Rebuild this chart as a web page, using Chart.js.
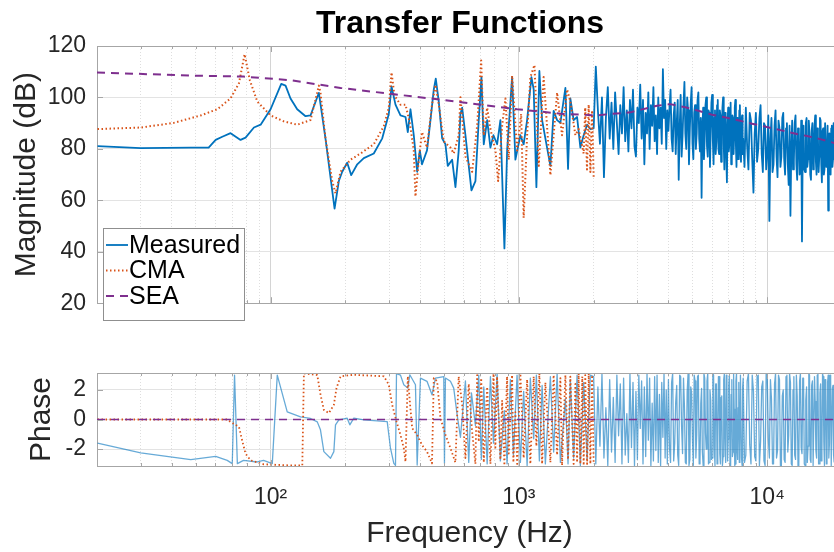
<!DOCTYPE html>
<html>
<head>
<meta charset="utf-8">
<script src="https://cdn.jsdelivr.net/npm/chart.js@4/dist/chart.umd.min.js"></script>
<style>
  html, body { margin: 0; padding: 0; background: #fff; overflow: hidden; width: 834px; height: 552px; }
  #title { position: absolute; left: 0; top: 3px; width: 920px; text-align: center;
           font: bold 32px 'Liberation Sans', Arial, Helvetica, sans-serif; line-height: 38px; color: #000; }
  #topBox { position: absolute; left: 0; top: 0; width: 843px; height: 328px; }
  #botBox { position: absolute; left: 0; top: 340px; width: 843px; height: 212px; }
</style>
</head>
<body>
<div id="topBox"><canvas id="magChart" width="843" height="328"></canvas></div>
<div id="botBox"><canvas id="phChart" width="843" height="212"></canvas></div>
<div id="title">Transfer Functions</div>
<script>
// ---- data ----
const freqTicks = [20,30,40,50,60,70,80,90,100,200,300,400,500,600,700,800,900,
  1000,2000,3000,4000,5000,6000,7000,8000,9000,10000,20000];
const decadeTicks = [100, 1000, 10000];
const decadeLabels = ['10\u00b2', '10\u00b3', '10\u2074'];
const magTicks = [20, 40, 60, 80, 100, 120];
const phaseTicks = [-2, 0, 2];

// measured, below 2 kHz
const measLoFreq = [20.1,30,47.7,56.3,60.1,63.9,69,75.7,79.3,85.7,91.2,100,110.4,114.9,120.3,128,138.3,144.8,156.5,166.4,
  181,188.3,194.3,203.5,211.2,223.4,237.4,260.4,281.6,299.3,306.9,318.4,333.5,349.4,356.9,365.9,377.3,389.3,398.9,407.2,
  426.5,440.4,454.2,462.6,475.7,490.8,506,517,538.4,555.2,572.3,581.5,590.8,609.2,628.1,644,668.3,689,706.5,721.8,
  745,767.8,789.7,817.2,842.4,874.2,896.5,938.9,968,1014,1045,1079,1123,1147,1176,1209,1240,1278,1339,1380,
  1425,1469,1539,1577,1611,1661,1715,1768,1823,1882,1939];
const measLoMag = [81.1,80.3,80.5,80.5,83.5,84.7,86.1,83.5,84.4,88.3,89.4,95.4,105.3,104.6,99.6,95.4,92.7,93,101.8,84,
  56.8,67.5,71.1,74.6,69.8,74,76.4,78.2,84.1,93.6,104.3,97.2,93,92.4,86.5,95.4,85.3,71.1,79.4,74,
  79.4,91.2,103.1,107.3,98.4,84.1,81.8,73.4,75.8,65.1,79.4,93.6,96,85.3,73.4,63.9,67.5,91.2,107.9,81.8,
  91.2,80.5,85.3,81.8,91.2,41.3,79.4,107.9,75.8,85.3,81.8,91.2,107.9,103.1,65.1,110.3,91.2,84.1,73.4,94.8,
  91.2,90.1,103.7,72.2,99.6,91.2,92.4,80.5,85.3,89.4,87.7];

// measured, 2 kHz and up (magnitude and phase share these frequencies)
const measHiFreq = [2000,2040,2080,2120,2160,2200,2240,2280,2320,2360,2400,2440,2480,2520,2560,2600,2640,2680,2720,2760,
  2800,2840,2880,2920,2960,3000,3040,3080,3120,3160,3200,3240,3280,3320,3360,3400,3440,3480,3520,3560,
  3600,3640,3680,3720,3760,3800,3840,3880,3920,3960,
  4000,4040,4080,4120,4160,4200,4240,4280,4320,4360,4400,4440,4480,4520,4560,4600,4640,4680,4720,4760,
  4800,4840,4880,4920,4960,5000,5040,5080,5120,5160,5200,5240,5280,5320,5360,5400,5440,5480,5520,5560,
  5600,5640,5680,5720,5760,5800,5840,5880,5920,5960,6000,6040,6080,6120,6160,6200,6240,6280,6320,6360,
  6400,6440,6480,6520,6560,6600,6640,6680,6720,6760,6800,6840,6880,6920,6960,7000,7040,7080,7120,7160,
  7200,7240,7280,7320,7360,7400,7440,7480,7520,7560,7600,7640,7680,7720,7760,7800,7840,7880,7920,7960,
  8000,8100,8200,8300,8400,8500,8600,8700,8800,8900,9000,9100,9200,9300,9400,9500,9600,9700,9800,9900,
  10000,10100,10200,10300,10400,10500,10600,10700,10800,10900,11000,11100,11200,11300,11400,11500,11600,11700,11800,11900,
  12000,12100,12200,12300,12400,12500,12600,12700,12800,12900,13000,13100,13200,13300,13400,13500,13600,13700,13800,13900,
  14000,14100,14200,14300,14400,14500,14600,14700,14800,14900,15000,15100,15200,15300,15400,15500,15600,15700,15800,15900,
  16000,16100,16200,16300,16400,16500,16600,16700,16800,16900,17000,17100,17200,17300,17400,17500,17600,17700,17800,17900,
  18000,18100,18200,18300,18400,18500,18600];
const measHiMag = [88,112,95,82,100,69,92,104,84,98,80,102,90,78,97,86,104,83,95,79,
  99,88,103,81,77,96,90,105,84,99,74,94,86,102,80,97,89,104,83,93,
  78,100,88,96,82,111,92,99,80,95,
  87,96,103,84,79,93,98,78,90,99,68,88,101,77,85,97,106,86,80,100,
  95,74,88,98,104,82,76,94,97,80,86,99,102,84,79,92,61,88,96,76,
  84,97,100,81,77,95,94,73,87,98,101,83,74,92,95,78,83,97,99,80,
  78,95,93,75,86,96,100,82,72,94,91,77,67,90,96,79,82,95,98,74,
  76,93,92,78,85,96,99,81,73,92,90,76,81,95,97,79,75,91,93,78,
  84,73,96,81,72,94,91,76,63,86,94,75,80,92,97,78,71,90,89,72,
  78,93,52,84,92,71,74,89,95,77,69,91,88,73,77,92,94,76,70,88,
  90,74,66,89,54,80,91,72,75,90,93,74,68,88,87,70,73,91,44,82,
  89,72,71,90,92,73,76,91,86,70,68,87,90,72,74,89,93,75,70,88,
  85,71,77,92,91,74,67,87,88,70,72,90,90,73,75,89,56,80,86,71,
  70,88,89,73,76,90,84];
const measHiPhase = [2.9,-3.0,2.2,-1.8,3.1,-2.6,0.8,-3.1,2.7,-2.2,1.5,-2.9,3.0,-1.1,2.4,-3.0,2.8,-2.4,0.4,-2.9,
  3.1,-1.9,2.5,-3.1,1.9,-2.7,3.0,-0.6,2.6,-3.0,2.2,-2.5,3.1,-1.4,2.8,-3.1,1.1,-2.8,2.9,-2.1,
  3.0,-2.9,1.7,-3.1,2.5,-1.2,3.1,-2.6,2.0,-3.0,
  2.7,-1.9,-2.9,2.5,3.1,-2.8,-1.6,1.2,2.3,-2.4,-3.1,3.0,2.9,-0.5,-2.3,2.8,0.9,-2.9,-3.0,1.9,
  3.1,-3.1,-2.7,2.2,1.8,-1.4,-3.1,3.0,2.6,-2.6,-1.0,2.9,3.0,-3.0,-2.8,1.1,2.1,-2.2,-3.1,3.1,
  2.8,-0.9,-2.0,2.6,3.1,-3.0,-2.9,2.0,1.3,-2.7,-2.6,3.1,3.0,-1.8,-3.1,2.4,2.4,-3.0,-1.7,2.9,
  2.9,-2.3,-3.0,1.5,1.6,-3.1,-2.5,2.7,3.1,-1.2,-2.9,3.0,2.2,-2.8,-1.3,2.3,3.0,-3.0,-3.1,1.7,
  2.7,-2.5,-2.2,3.1,0.7,-3.1,-3.0,2.6,3.1,-2.0,-2.7,0.8,2.5,-2.9,-1.9,3.0,3.0,-2.6,-3.1,2.2,
  2.8,-2.9,-2.4,2.6,3.1,-1.7,-3.0,3.0,1.9,-2.5,-2.8,2.9,3.0,-3.1,-1.5,2.2,2.6,-2.8,-3.1,3.1,
  2.9,-1.3,-2.6,2.7,1.4,-3.0,-3.0,2.4,3.1,-2.6,-2.1,3.0,2.7,-3.1,-3.1,1.6,2.0,-2.7,-2.9,2.9,
  3.0,-2.2,-1.1,3.1,2.5,-3.0,-3.1,2.0,2.9,-2.4,-2.7,3.0,1.6,-3.1,-3.0,2.6,3.1,-1.9,-2.3,2.8,
  2.8,-3.0,-3.1,1.3,2.2,-2.9,-1.8,3.1,3.0,-2.7,-2.9,2.3,2.6,-3.1,-3.1,2.9,1.2,-2.1,-2.6,3.0,
  3.1,-3.0,-3.0,1.8,2.4,-2.8,-2.2,3.1,2.9,-1.5,-3.1,2.7,1.8,-3.0,-2.8,2.5,3.0,-2.6,-1.6,3.0,
  2.7,-3.1,-3.1,2.1,2.3,-2.4,-2.9];

// measured phase, below 2 kHz
const measPhFreq = [20.1,30,47.7,60.1,66.9,70.1,71.6,73.5,77.8,88.4,93.7,101.6,106.4,116.7,132,144.8,154.2,158.8,163.9,174.3,
  179.8,182.6,188.3,203.5,208.5,216.4,237.4,294.9,304,313.5,318.4,321.4,333.5,343.9,356.9,363.6,383.2,389.3,401.4,426.5,
  446.7,461.3,498.2,501.4,506,530,546.4,564,581.5,609,628,644,668,689,706,722,745,768,790,817,
  842,874,896,924,950,983,1014,1045,1079,1112,1147,1176,1209,1240,1278,1339,1380,1425,1469,1539,
  1577,1611,1661,1715,1768,1823,1882,1939];
const measPh = [-1.59,-2.26,-2.71,-2.49,-2.76,-2.98,3.0,-2.98,-2.76,-2.87,-2.76,-2.98,3.0,0.52,0.18,0.07,-0.16,-0.7,-2.17,-2.62,
  -2.17,-0.36,-0.02,0.09,-0.36,0.09,-0.02,-0.14,-1.94,-2.96,-3.1,3.1,3.0,2.35,2.12,3.02,2.35,-3.08,2.8,2.58,
  1.67,2.8,2.9,-2.96,2.8,2.58,2.12,0.31,-1.2,2.6,-2.9,1.8,-0.4,3.0,-2.7,2.2,-3.0,2.9,-1.6,3.1,
  -2.8,0.6,-3.0,2.7,-2.4,3.0,-2.9,1.9,-3.1,2.8,-1.3,3.0,-2.8,2.3,-3.0,2.9,-2.2,3.1,-2.9,1.4,
  -3.0,2.7,-2.6,3.0,-3.1,2.5,-2.7,3.0];

// CMA model
const cmaFreq = [20.1,30,40.7,52.3,61,69,74.6,78.6,82.5,88.4,100,113.1,128,144.8,156.5,158.8,166.4,177.1,182.6,191.3,
  209.9,230.2,260.4,285.8,299.3,306.9,315.5,333.5,349.4,363.6,377.3,383.2,395.2,407.2,426.5,446.7,461.3,475.7,498.2,530,
  546.4,572.3,581.5,609.2,648.2,678.9,704.6,721.8,745,767.8,804.3,824.8,855.9,882.5,910,938.9,983.5,1021,1045,1079,
  1112,1155,1202,1258,1339,1425,1492,1563,1611,1688,1740,1823,1850,1880,1910,1940,1971,2000];
const cmaMag = [87.7,88.3,90.1,93,95.4,99.6,105.5,116.8,106.7,98.4,93,90.7,89.4,91.2,104.6,101.9,84,67.5,62.7,71.1,
  75.8,78.2,81.8,88.9,96,109.7,100.7,97.2,97.2,90.1,79.4,61.5,75.8,86.5,80.5,97.2,104.9,97.2,82.9,80.5,
  78.2,85.3,100.1,77,71.1,88.9,114.4,85.3,96,87.7,79.4,67.5,88.9,99.6,75.8,108.5,79.4,93.6,53.2,85.3,
  107.9,112.6,73.4,107.9,69.8,101.9,85.3,103.1,98.4,85.3,87.7,78.2,96,72,97.2,71,95,69];
const cmaPhFreq = [20.1,40,60,66.9,69,74.6,76.8,79.3,83.1,93.9,120.3,134.2,136.2,154.2,158.8,163.9,171.7,179.8,184.3,191.3,
  216.4,285.8,299.3,308.8,321.4,333.5,343.9,349.4,356.9,363.6,371.7,389.3,407.2,426.5,446.7,454.2,468.6,483.1,506,530,
  555,572,591,609,628,648,668,679,689,705,722,745,768,790,804,817,842,856,874,896,
  910,939,950,968,984,1014,1045,1079,1112,1147,1176,1209,1240,1278,1339,1380,1425,1469,1492,1539,
  1577,1611,1661,1688,1715,1740,1768,1800,1823,1850,1882,1910,1940,1971,2000];
const cmaPh = [0,0,0,0,-0.16,-0.5,-1.4,-2.31,-2.76,-3.03,-3.1,-3.1,3.12,3.0,1.7,0.65,0.43,0.99,2.12,2.92,
  3.02,2.92,2.35,0.99,-0.14,-1.04,-1.94,-2.85,2.92,1.22,-0.59,-1.04,-1.72,-2.17,-2.96,2.8,2.58,0.09,-1.04,-1.94,
  -2.9,2.9,1.0,-2.6,2.4,-0.8,-3.0,3.0,-1.5,2.8,-2.9,2.2,-3.0,3.1,-1.9,2.9,-2.7,1.3,-3.1,2.9,
  -2.3,3.0,-2.9,0.5,-3.0,3.1,-2.6,2.7,-3.0,2.9,-1.8,3.1,-3.0,2.5,-2.9,3.0,-2.4,2.8,-3.1,3.0,
  -2.7,2.9,-3.0,2.4,-2.9,3.1,-3.0,2.9,-3.1,3.0,-3.0,3.1,-3.0,3.0,-3.0];

// SEA model
const seaFreq = [20,47.7,77.8,120.3,174.3,191.3,304,468.6,699.9,983.5,1511,2064,2182,2810,3597,4071,4677,5277,5992,6884,
  7784,8677,9972,11280,12760,14450,16340,18600,20000];
const seaMag = [109.7,108.5,108.1,106.7,104.3,103.7,101.4,99.3,97.2,95.4,93.6,93,93.3,94.2,96.8,97.4,96.2,94.8,93.3,92.1,
  90.9,89.8,88.5,87.3,86.1,85,83.8,82.3,81.9];
const seaPhFreq = [20, 20000];
const seaPh = [0, 0];

// ---- helpers ----
const FONT = "'Liberation Sans', Arial, Helvetica, sans-serif";
const TXT = '#262626';
const AXIS = '#a6a6a6';
const BLUE = '#0072BD', ORANGE = '#D95319', PURPLE = '#7E2F8E';

Chart.defaults.font.family = FONT;
Chart.defaults.color = TXT;

function pts(xs, ys) { return xs.map((x, i) => ({ x: x, y: ys[i] })); }
const isDecade = v => decadeTicks.indexOf(v) >= 0;
const setTicks = list => scale => { scale.ticks = list.map(v => ({ value: v })); };

function xScale(showLabels) {
  return {
    type: 'logarithmic', min: 20, max: 20000,
    afterBuildTicks: setTicks(freqTicks),
    ticks: {
      display: showLabels, autoSkip: false, maxRotation: 0, padding: 18,
      font: { size: 23 }, color: TXT,
      callback: v => { const i = decadeTicks.indexOf(v); return i >= 0 ? decadeLabels[i] : ''; }
    },
    grid: {
      drawTicks: false,
      color: c => (c.tick && isDecade(c.tick.value)) ? '#d4d4d4' : '#dedede'
    },
    border: {
      color: AXIS, width: 1,
      dash: c => (c.tick && !isDecade(c.tick.value)) ? [1, 2] : []
    }
  };
}

// box + inward tick marks like the original axes
const framePlugin = {
  id: 'frame',
  afterDatasetsDraw(chart) {
    const { ctx, chartArea: a, scales } = chart;
    ctx.save();
    ctx.strokeStyle = AXIS;
    ctx.lineWidth = 1;
    ctx.beginPath();
    ctx.moveTo(a.left, Math.round(a.top) + 0.5);
    ctx.lineTo(a.right, Math.round(a.top) + 0.5);
    scales.x.ticks.forEach(t => {
      const px = Math.round(scales.x.getPixelForValue(t.value)) + 0.5;
      const len = isDecade(t.value) ? 6 : 3;
      ctx.moveTo(px, a.top); ctx.lineTo(px, a.top + len);
      ctx.moveTo(px, a.bottom); ctx.lineTo(px, a.bottom - len);
    });
    scales.y.ticks.forEach(t => {
      const py = Math.round(scales.y.getPixelForValue(t.value)) + 0.5;
      ctx.moveTo(a.left, py); ctx.lineTo(a.left + 6, py);
    });
    ctx.stroke();
    ctx.restore();
  }
};

// legend box in the lower left corner of the magnitude axes
const legendPlugin = {
  id: 'legendBox',
  afterDraw(chart) {
    const ctx = chart.ctx;
    const order = ['Measured', 'CMA', 'SEA'];
    ctx.save();
    ctx.fillStyle = '#fff';
    ctx.fillRect(103.5, 228.5, 141, 92);
    ctx.strokeStyle = '#8f8f8f';
    ctx.lineWidth = 1;
    ctx.strokeRect(103.5, 228.5, 141, 92);
    order.forEach((name, i) => {
      const ds = chart.data.datasets.find(d => d.label === name);
      const y = 245 + i * 25.5;
      ctx.strokeStyle = ds.borderColor;
      ctx.lineWidth = Math.min(ds.borderWidth, 1.8);
      ctx.setLineDash(ds.borderDash || []);
      ctx.beginPath();
      ctx.moveTo(106, y); ctx.lineTo(128, y);
      ctx.stroke();
      ctx.setLineDash([]);
      ctx.fillStyle = '#000';
      ctx.font = '25px ' + FONT;
      ctx.textBaseline = 'middle';
      ctx.fillText(name, 129, y + 1);
    });
    ctx.restore();
  }
};

const common = {
  responsive: false,
  animation: false,
  devicePixelRatio: 1,
  events: [],
  elements: { point: { radius: 0 }, line: { tension: 0, borderJoinStyle: 'round' } }
};

new Chart(document.getElementById('magChart'), {
  type: 'line',
  data: {
    datasets: [
      { label: 'SEA', data: pts(seaFreq, seaMag), borderColor: PURPLE, borderWidth: 2, borderDash: [8, 6] },
      { label: 'CMA', data: pts(cmaFreq, cmaMag), borderColor: ORANGE, borderWidth: 2, borderDash: [1.5, 2.5] },
      { label: 'Measured', data: pts(measLoFreq.concat(measHiFreq), measLoMag.concat(measHiMag)),
        borderColor: BLUE, borderWidth: 1.8 }
    ]
  },
  options: Object.assign({}, common, {
    layout: { padding: { top: 46, left: 0, right: 1, bottom: 1 } },
    plugins: { legend: { display: false }, tooltip: { enabled: false } },
    scales: {
      x: Object.assign(xScale(false), {
        afterFit: s => { s.paddingLeft = 0; s.paddingRight = 0; }
      }),
      y: {
        min: 20, max: 120,
        afterBuildTicks: setTicks(magTicks),
        afterFit: s => { s.width = 97; },
        ticks: { font: { size: 23 }, color: TXT, padding: 11 },
        grid: { drawTicks: false, color: '#e3e3e3' },
        border: { color: AXIS },
        title: { display: true, text: 'Magnitude (dB)', color: TXT, font: { size: 30 }, padding: { top: 9, bottom: 0 } }
      }
    }
  }),
  plugins: [framePlugin, legendPlugin]
});

new Chart(document.getElementById('phChart'), {
  type: 'line',
  data: {
    datasets: [
      { label: 'SEA', data: pts(seaPhFreq, seaPh), borderColor: PURPLE, borderWidth: 1.6, borderDash: [8, 6] },
      { label: 'CMA', data: pts(cmaPhFreq, cmaPh), borderColor: ORANGE, borderWidth: 1.8, borderDash: [1.5, 2.5] },
      { label: 'Measured', data: pts(measPhFreq.concat(measHiFreq), measPh.concat(measHiPhase)),
        borderColor: 'rgba(0,114,189,0.6)', borderWidth: 1.3 }
    ]
  },
  options: Object.assign({}, common, {
    layout: { padding: { top: 33, left: 0, right: 1, bottom: 0 } },
    plugins: { legend: { display: false }, tooltip: { enabled: false } },
    scales: {
      x: Object.assign(xScale(true), {
        afterFit: s => { s.height = 86; s.paddingLeft = 0; s.paddingRight = 0; },
        title: { display: true, text: 'Frequency (Hz)', color: TXT, font: { size: 30 }, padding: { top: 0, bottom: 0 } }
      }),
      y: {
        min: -Math.PI, max: Math.PI,
        afterBuildTicks: setTicks(phaseTicks),
        afterFit: s => { s.width = 97; },
        ticks: { font: { size: 23 }, color: TXT, padding: 11 },
        grid: { drawTicks: false, color: '#e3e3e3' },
        border: { color: AXIS },
        title: { display: true, text: 'Phase', color: TXT, font: { size: 30 }, padding: { top: 24, bottom: 0 } }
      }
    }
  }),
  plugins: [framePlugin]
});
</script>
</body>
</html>
